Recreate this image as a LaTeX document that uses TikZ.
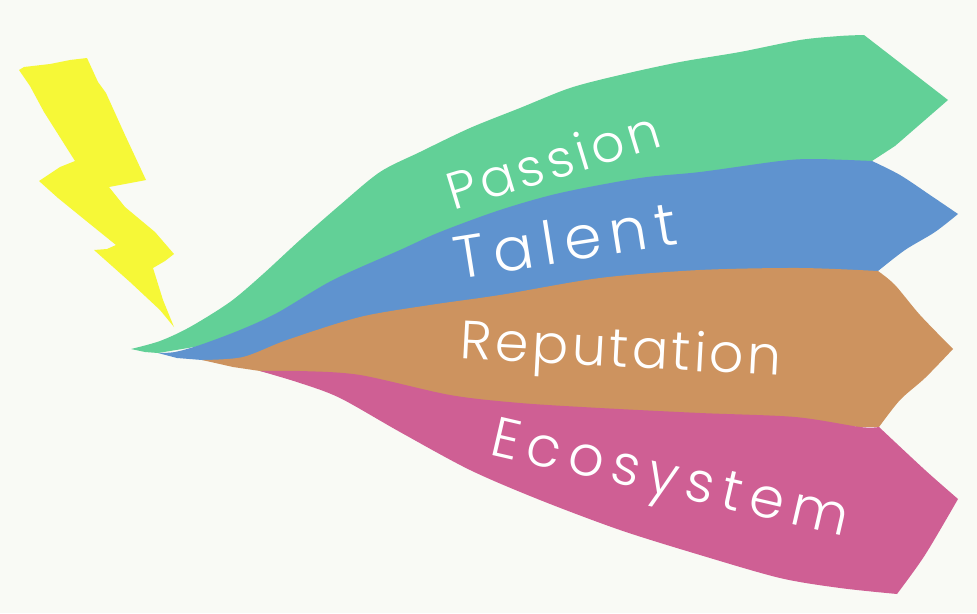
\documentclass[tikz,border=0pt]{standalone}
\usepackage{fontspec}
\newfontfamily\handfont{Poppins Light}
\definecolor{paper}{HTML}{F9FAF5}
\definecolor{boltyellow}{HTML}{F6F837}
\definecolor{passiongreen}{HTML}{62D097}
\definecolor{talentblue}{HTML}{5F93CF}
\definecolor{reputationtan}{HTML}{CD935F}
\definecolor{ecosystempink}{HTML}{CF5F94}
\begin{document}
\begin{tikzpicture}[x=1pt,y=-1pt,
        edgeline/.style = {smooth,tension=0.5},
        tonguetext/.style 2 args = {text=white,inner sep=0pt,
            font=\handfont\fontsize{#1}{#1}\selectfont\addfontfeature{LetterSpace=#2}}]
        \fill[paper] (0,0) rectangle (977,613);
        % bolt
        \fill[boltyellow] (19,70) -- (24,67) -- (50,64) -- (70,60) -- (87,58) -- (98,82) -- (106,93) -- (125,135) -- (146,180)
            -- (141,181) -- (109,187) -- (125,207) -- (155,232) -- (174,254) -- (165,261) -- (153,268)
            -- (163,300) -- (174,327) -- (160,310) -- (130,282) -- (94,250) -- (107,249) -- (116,245)
            -- (90,224) -- (58,198) -- (39,181) -- (60,167) -- (75,161) -- (44,112) -- (30,86) -- cycle;
        % tongues, top to bottom
        \fill[passiongreen] plot[edgeline] coordinates {(131,349) (160,341) (190,327) (230,302) (262,275) (300,240)
            (340,205) (380,172) (420,152) (470,128) (520,108) (570,88) (620,75)
            (680,62) (740,52) (800,40) (840,36) (864,35)}
            -- (948,100) -- (895,146) -- (872,161)
            -- (700,200) -- (333,300) -- (200,346) -- (158,353) -- (145,352) -- cycle;
        \fill[talentblue] plot[edgeline] coordinates {(158,353) (175,352) (200,345) (240,330) (277,313) (333,280)
            (400,250) (440,232) (500,210) (560,193) (640,178) (700,172) (780,161)
            (815,159) (872,161)}
            -- plot[edgeline] coordinates {(872,161) (900,175) (930,195) (958,214)}
            -- plot[edgeline] coordinates {(958,214) (935,232) (905,250) (878,271)}
            -- (700,290) -- (360,340) -- (243,360) -- (202,360) -- (177,358) -- cycle;
        \fill[reputationtan] plot[edgeline] coordinates {(202,360) (243,357) (287,340) (360,317) (430,305) (500,295)
            (600,278) (700,270) (800,268) (878,271)}
            -- plot[edgeline] coordinates {(878,271) (895,285) (920,315) (953,349)}
            -- plot[edgeline] coordinates {(953,349) (925,378) (900,400) (879,427)}
            -- (700,425) -- (360,395) -- (260,371) -- (233,367) -- cycle;
        \fill[ecosystempink] plot[edgeline] coordinates {(260,371) (300,371) (360,375) (450,395) (520,403) (600,408)
            (700,413) (795,417) (860,427) (879,427)}
            -- plot[edgeline] coordinates {(879,427) (925,470) (958,499)}
            -- plot[edgeline] coordinates {(958,499) (925,555) (897,594)}
            -- plot[edgeline] coordinates {(897,594) (840,588) (780,578) (700,555) (620,530) (540,500) (470,470)
            (400,432) (340,398) (300,383) (260,371)} -- cycle;
        \node[tonguetext={52}{8},rotate=17] (passion) at (553,160) {Passion};
        \node[tonguetext={60}{14},rotate=9] (talent) at (565,240) {Talent};
        \node[tonguetext={54}{6},rotate=-3] (reputation) at (621,354) {Reputation};
        \node[tonguetext={56}{15},rotate=-13] (ecosystem) at (669,483) {Ecosystem};
\end{tikzpicture}
\end{document}
